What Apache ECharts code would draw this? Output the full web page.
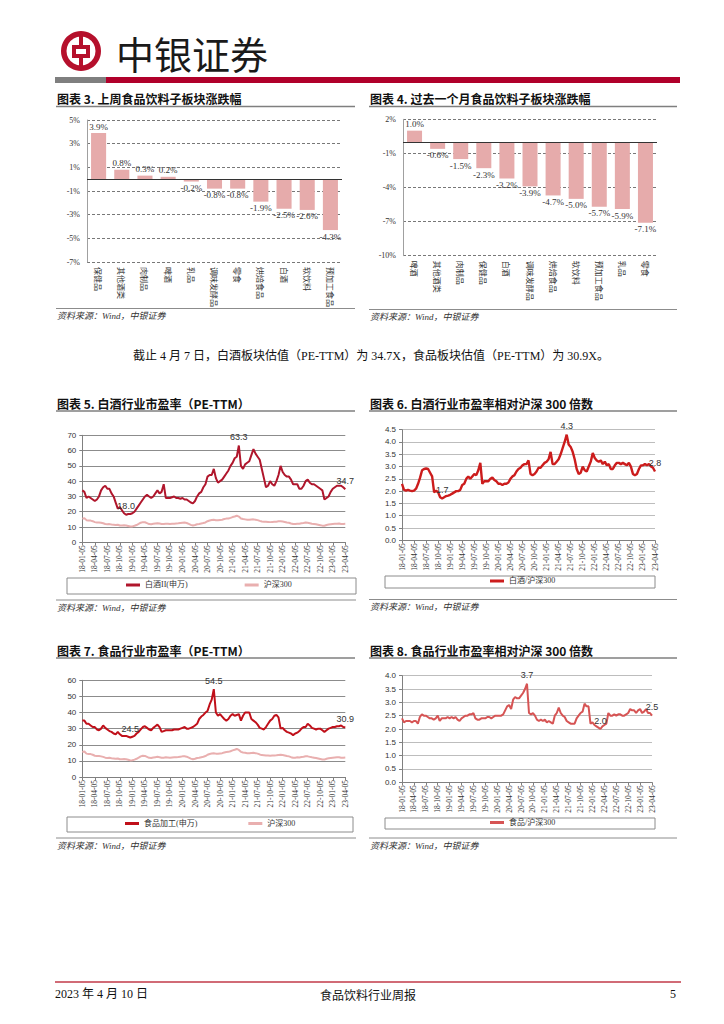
<!DOCTYPE html>
<html><head><meta charset="utf-8">
<script src="https://cdn.jsdelivr.net/npm/echarts@6/dist/echarts.min.js"></script>
<style>html,body{margin:0;padding:0;background:#fff}#c{width:724px;height:1024px}</style>
</head><body><div id="c"></div>
<script>
// ---------- data ----------
const cats3 = ['保健品','其他酒类','肉制品','啤酒','乳品','调味发酵品','零食','烘焙食品','白酒','软饮料','预加工食品'];
const vals3 = [3.9,0.8,0.3,0.2,-0.2,-0.8,-0.8,-1.9,-2.5,-2.6,-4.3];
const cats4 = ['啤酒','其他酒类','肉制品','保健品','白酒','调味发酵品','烘焙食品','软饮料','预加工食品','乳品','零食'];
const vals4 = [1.0,-0.6,-1.5,-2.3,-3.2,-3.9,-4.7,-5.0,-5.7,-5.9,-7.1];

const dates = [
'18-01-05','18-01-20','18-02-05','18-02-20','18-03-05','18-03-20','18-04-05','18-04-20','18-05-05','18-05-20','18-06-05','18-06-20','18-07-05','18-07-20','18-08-05','18-08-20','18-09-05','18-09-20','18-10-05','18-10-20','18-11-05','18-11-20','18-12-05','18-12-20',
'19-01-05','19-01-20','19-02-05','19-02-20','19-03-05','19-03-20','19-04-05','19-04-20','19-05-05','19-05-20','19-06-05','19-06-20','19-07-05','19-07-20','19-08-05','19-08-20','19-09-05','19-09-20','19-10-05','19-10-20','19-11-05','19-11-20','19-12-05','19-12-20',
'20-01-05','20-01-20','20-02-05','20-02-20','20-03-05','20-03-20','20-04-05','20-04-20','20-05-05','20-05-20','20-06-05','20-06-20','20-07-05','20-07-20','20-08-05','20-08-20','20-09-05','20-09-20','20-10-05','20-10-20','20-11-05','20-11-20','20-12-05','20-12-20',
'21-01-05','21-01-20','21-02-05','21-02-20','21-03-05','21-03-20','21-04-05','21-04-20','21-05-05','21-05-20','21-06-05','21-06-20','21-07-05','21-07-20','21-08-05','21-08-20','21-09-05','21-09-20','21-10-05','21-10-20','21-11-05','21-11-20','21-12-05','21-12-20',
'22-01-05','22-01-20','22-02-05','22-02-20','22-03-05','22-03-20','22-04-05','22-04-20','22-05-05','22-05-20','22-06-05','22-06-20','22-07-05','22-07-20','22-08-05','22-08-20','22-09-05','22-09-20','22-10-05','22-10-20','22-11-05','22-11-20','22-12-05','22-12-20',
'23-01-05','23-01-20','23-02-05','23-02-20','23-03-05','23-03-20','23-04-05'];

const baijiuPE = [
34,33,29,30,29,28,27,28,30,34,36,37,35,35,32,30,26,22,23,21,19,18.0,18.5,18.5,
19,20,22,24,26,28,30,31,30,29,30,32,34,32,33,38,29,29,29,29.5,30,29,29,28.5,
29,28,28,27,26,25.5,27,30,32,33,36,38,43,44,44,48,42,39,40,41,43,45,47,50,
52,55,56,63.3,50,48,51,52,53,57,61,58,56,54,48,42,36,37,40,38,37,40,44,50,
46,44,43,43,41,38,38,38,35,35,37,40,41,39,38,38,37,36,35,34,28,29,30,33,
35,36,37,37,37,36,34.7];
const hs300PE = [
15.5,15.8,14.5,14.3,14.2,13.8,13.2,13.0,13.0,12.8,12.5,12.0,11.8,11.9,11.6,11.5,11.3,11.5,11.0,11.0,11.1,11.0,10.7,10.3,
10.4,10.8,11.3,12.0,12.8,13.2,13.1,12.5,11.9,11.8,12.1,12.3,12.5,12.3,12.0,12.0,12.2,12.1,12.0,12.1,12.2,12.3,12.4,12.6,
12.8,12.9,12.6,12.0,11.4,11.0,11.3,11.8,12.0,12.3,12.6,13.0,13.8,14.3,14.6,14.7,14.5,14.4,14.6,14.8,15.2,15.5,15.6,16.0,
16.5,16.9,17.4,16.8,15.6,15.2,15.0,14.8,14.7,14.9,15.0,14.8,14.5,14.0,13.6,13.5,13.4,13.3,13.2,13.3,13.4,13.5,13.7,13.8,
13.6,13.3,13.0,12.8,12.3,12.0,12.0,12.2,12.1,12.4,12.6,12.9,12.8,12.5,12.2,12.0,11.8,11.5,11.2,10.9,10.8,11.3,11.6,11.8,
12.0,12.1,12.2,12.3,12.0,12.0,12.1];
const baijiuRel = [
2.3,2.05,2.02,2.05,2.02,2.0,2.02,2.1,2.3,2.55,2.85,2.9,2.92,2.9,2.75,2.6,1.95,2.02,1.95,1.75,1.7,1.75,1.8,1.82,
1.85,1.9,1.95,2.0,2.0,2.05,2.25,2.3,2.5,2.6,2.5,2.6,2.7,2.65,2.85,3.15,2.3,2.4,2.4,2.4,2.5,2.55,2.45,2.4,
2.3,2.3,2.25,2.3,2.3,2.35,2.5,2.6,2.65,2.8,2.9,2.95,3.05,3.1,3.1,3.25,2.7,2.65,2.7,2.8,2.95,2.95,3.05,3.15,
3.2,3.3,3.6,3.1,3.1,3.2,3.3,3.5,3.75,4.0,4.3,3.9,3.8,3.6,3.3,2.9,2.7,2.75,3.0,2.85,2.8,3.0,3.2,3.55,
3.35,3.25,3.2,3.25,3.1,3.2,3.05,3.1,2.9,2.9,3.05,3.15,3.15,3.1,3.15,3.1,3.05,3.15,3.0,2.7,2.65,2.7,2.9,3.05,
3.05,3.1,3.05,3.1,3.0,2.95,2.8];
const foodPE = [
35,35,33,33,32,31,31,29.5,29,30,32,30.5,29.5,28.5,28,27,26.5,28,26.5,25.5,25.5,25.5,25,24.5,
25,25.5,27,28,29.5,31,31.5,30.5,29.5,29,30.5,31.5,32.5,31,28,28.5,29,29,29,29,29.5,29.5,29.5,30,
30.5,31,30,30,30.5,31,32,33,36,37.5,38.5,40,41,45,48,54.5,40,38,39,37.5,36,35,36,38,
39,38,38.5,39,35,38,40,40,40,36,35,34,32.5,30.5,30,29.5,31,33,35,36,38,38.5,37,30,
30.5,29,28,27.5,27,26,27,27.5,28.5,30,31,31,33,32,30.5,30,29.5,30,30,29,28,29,30,30.5,
31,31,31.5,31.5,32,31,30.9];
const foodRel = [
2.4,2.25,2.3,2.3,2.3,2.25,2.3,2.3,2.2,2.45,2.55,2.5,2.5,2.45,2.4,2.4,2.35,2.4,2.5,2.3,2.4,2.4,2.4,2.45,
2.4,2.45,2.4,2.45,2.35,2.3,2.4,2.45,2.5,2.5,2.55,2.55,2.6,2.4,2.35,2.35,2.4,2.4,2.4,2.45,2.45,2.4,2.45,2.5,
2.5,2.5,2.5,2.55,2.7,2.85,2.9,2.75,3.1,3.2,3.15,3.15,3.25,3.35,3.5,3.7,2.6,2.55,2.6,2.5,2.35,2.3,2.35,2.3,
2.35,2.25,2.3,2.25,2.2,2.5,2.6,2.8,2.6,2.5,2.45,2.3,2.25,2.2,2.2,2.2,2.4,2.5,2.6,2.65,2.95,2.85,2.85,2.2,
2.25,2.15,2.1,2.05,2.0,2.1,2.15,2.2,2.6,2.5,2.5,2.55,2.5,2.55,2.55,2.5,2.5,2.55,2.6,2.75,2.7,2.7,2.6,2.7,
2.75,2.6,2.65,2.75,2.6,2.6,2.5];

// ---------- styles ----------
const SERIF = '"Liberation Serif","Noto Sans CJK SC"';
const SANS = '"Liberation Sans","Noto Sans CJK SC"';
const CJK = '"Noto Sans CJK SC"';

function barX(i, cats){return {gridIndex:i,type:'category',data:cats,axisLine:{show:false,onZero:false},axisTick:{show:false},
  axisLabel:{interval:0,rotate:-90,fontSize:8,color:'#333',fontFamily:CJK,margin:5}};}
function barY(i,min,max,interval){return {gridIndex:i,type:'value',min:min,max:max,interval:interval,
  axisLine:{show:true,lineStyle:{color:'#a0a0a0'}},axisTick:{show:false},
  splitLine:{show:true,lineStyle:{color:'#555',type:[3,2],width:0.8}},
  axisLabel:{formatter:'{value}%',fontSize:8,color:'#333',fontFamily:SERIF,margin:7}};}
function barS(i,vals){return {type:'bar',xAxisIndex:i,yAxisIndex:i,barWidth:'65%',
  data:vals.map(v=>({value:v,label:{position:v>=0?'top':'bottom'}})),
  itemStyle:{color:'#e6abab'},
  label:{show:true,formatter:p=>p.value.toFixed(1)+'%',fontSize:9,color:'#333',fontFamily:SERIF,distance:2},
  markLine:{silent:true,symbol:'none',label:{show:false},lineStyle:{color:'#333',type:'solid',width:1},data:[{yAxis:0}]}};}
function tsX(i){return {gridIndex:i,type:'category',data:dates,boundaryGap:false,
  axisLine:{onZero:false,lineStyle:{color:'#808080'}},axisTick:{interval:5,length:3,lineStyle:{color:'#808080'}},
  axisLabel:{interval:5,rotate:90,fontSize:7.5,color:'#333',fontFamily:SERIF,margin:3}};}
function tsY(i,max,interval,dec,gc){return {gridIndex:i,type:'value',min:0,max:max,interval:interval,
  axisLine:{show:true,lineStyle:{color:'#808080'}},axisTick:{show:true,length:3,lineStyle:{color:'#808080'}},
  splitLine:{lineStyle:{color:gc,width:1}},
  axisLabel:{formatter:v=>v.toFixed(dec),fontSize:8,color:'#333',fontFamily:SANS,margin:6}};}
function lineS(i,name,arr,color,width,marks){
  const s={type:'line',name:name,xAxisIndex:i,yAxisIndex:i,data:arr,symbol:'none',
    lineStyle:{color:color,width:width},itemStyle:{color:color}};
  if(marks){
    s.markPoint={symbol:'circle',symbolSize:0,
      label:{show:true,position:'top',distance:4,formatter:p=>Number(p.value).toFixed(1),fontSize:9,color:'#333',fontFamily:SANS},
      data:[{type:'max'},{type:'min'},{coord:[dates[dates.length-1],arr[arr.length-1]],value:arr[arr.length-1]}]};
  }
  return s;
}
function legend(names,left,top,gap){return {data:names,left:left,top:top,padding:0,icon:'rect',itemWidth:14,itemHeight:3,itemGap:gap,
  selectedMode:false,textStyle:{fontSize:8,color:'#333',fontFamily:SERIF}};}

// ---------- graphics ----------
const RED='#b5102c';
function txt(x,y,t,font,extra){return Object.assign({type:'text',x:x,y:y,style:Object.assign({text:t,font:font,fill:'#111',verticalAlign:'middle'},extra||{})});}
function ln(x1,y1,x2,y2,c,w){return {type:'line',shape:{x1:x1,y1:y1,x2:x2,y2:y2},style:{stroke:c,lineWidth:w}};}
function box(x,y,w,h){return {type:'rect',shape:{x:x,y:y,width:w,height:h},style:{fill:'none',stroke:'#8c8c8c',lineWidth:1}};}
const TF='bold 12px "Noto Sans CJK SC"';
const SF='italic 9px "Liberation Serif","Noto Sans CJK SC"';
const graphics=[
  {type:'ring',shape:{cx:81,cy:51,r:20,r0:14.5},style:{fill:RED}},
  {type:'rect',shape:{x:72,y:45,width:18,height:13},style:{fill:RED}},
  {type:'rect',shape:{x:76,y:49,width:10,height:5},style:{fill:'#fff'}},
  {type:'rect',shape:{x:79,y:34,width:4,height:12},style:{fill:RED}},
  {type:'rect',shape:{x:79,y:57,width:4,height:12},style:{fill:RED}},
  txt(116,52,'中银证券','38px "Noto Sans CJK SC"',{fill:'#1a1a1a'}),
  {type:'rect',shape:{x:55,y:77,width:51,height:6},style:{fill:'#7f7f7f'}},
  {type:'rect',shape:{x:106,y:77,width:574,height:6},style:{fill:'#b0002a'}},
  // titles
  txt(57,98,'图表 3. 上周食品饮料子板块涨跌幅',TF), ln(56,106.5,355,106.5,'#7f7f7f',1.5),
  txt(370,98,'图表 4. 过去一个月食品饮料子板块涨跌幅',TF), ln(369,106.5,677,106.5,'#7f7f7f',1.5),
  ln(56,308.5,355,308.5,'#8c8c8c',1), txt(57,316,'资料来源：Wind，中银证券',SF,{fill:'#333'}),
  ln(369,309.5,677,309.5,'#8c8c8c',1), txt(370,317,'资料来源：Wind，中银证券',SF,{fill:'#333'}),
  txt(133,356,'截止 4 月 7 日，白酒板块估值（PE-TTM）为 34.7X，食品板块估值（PE-TTM）为 30.9X。','12px "Liberation Serif","Noto Sans CJK SC"'),
  txt(57,403,'图表 5. 白酒行业市盈率（PE-TTM）',TF), ln(56,411,355,411,'#7f7f7f',1.5),
  txt(370,403,'图表 6. 白酒行业市盈率相对沪深 300 倍数',TF), ln(369,411,677,411,'#7f7f7f',1.5),
  box(67,578,289,16), box(385,576,270,12),
  ln(56,600,356,600,'#8c8c8c',1), txt(57,608,'资料来源：Wind，中银证券',SF,{fill:'#333'}),
  ln(369,599.5,677,599.5,'#8c8c8c',1), txt(370,607,'资料来源：Wind，中银证券',SF,{fill:'#333'}),
  txt(57,650,'图表 7. 食品行业市盈率（PE-TTM）',TF), ln(56,658,355,658,'#7f7f7f',1.5),
  txt(370,650,'图表 8. 食品行业市盈率相对沪深 300 倍数',TF), ln(369,658,677,658,'#7f7f7f',1.5),
  box(67,817,286,15), box(385,818,270,11),
  ln(56,838,356,838,'#8c8c8c',1), txt(57,846,'资料来源：Wind，中银证券',SF,{fill:'#333'}),
  ln(369,838,677,838,'#8c8c8c',1), txt(370,846,'资料来源：Wind，中银证券',SF,{fill:'#333'}),
  // footer
  ln(55,982,681,982,'#c23a48',1.5),
  txt(55,994,'2023 年 4 月 10 日','12px "Liberation Serif","Noto Sans CJK SC"'),
  txt(368,994,'食品饮料行业周报','12px "Noto Sans CJK SC"',{align:'center'}),
  txt(676,994,'5','12px "Liberation Serif"',{align:'right'})
];

const option={
  animation:false,
  backgroundColor:'#fff',
  grid:[
    {left:87,top:120,width:255,height:142},
    {left:403,top:119.3,width:254,height:136.4},
    {left:82.3,top:435.3,width:263,height:107},
    {left:402,top:429.7,width:253,height:110.6},
    {left:82.3,top:680.3,width:263,height:96.7},
    {left:402,top:675.7,width:250,height:106.6}
  ],
  xAxis:[barX(0,cats3),barX(1,cats4),tsX(2),tsX(3),tsX(4),tsX(5)],
  yAxis:[barY(0,-7,5,2),barY(1,-10,2,3),
    tsY(2,70,10,0,'#8c8c8c'),tsY(3,4.5,0.5,1,'#bdbdbd'),tsY(4,60,10,0,'#8c8c8c'),tsY(5,4.0,0.5,1,'#bdbdbd')],
  legend:[
    legend(['白酒II(申万)','沪深300'],126,581,57),
    legend(['白酒/沪深300'],490,577,10),
    legend(['食品加工(申万)','沪深300'],125,819.5,51),
    legend(['食品/沪深300'],490,818.5,10)
  ],
  series:[
    barS(0,vals3), barS(1,vals4),
    lineS(2,'沪深300',hs300PE,'#e9afaf',2,false),
    lineS(2,'白酒II(申万)',baijiuPE,'#b0162c',2,true),
    lineS(3,'白酒/沪深300',baijiuRel,'#cc1c1c',2.4,true),
    lineS(4,'沪深300',hs300PE,'#e9afaf',2,false),
    lineS(4,'食品加工(申万)',foodPE,'#c0101a',2,true),
    lineS(5,'食品/沪深300',foodRel,'#d65454',2,true)
  ],
  graphic:graphics
};
const chart=echarts.init(document.getElementById('c'),null,{renderer:'svg',width:724,height:1024});
chart.setOption(option);
</script></body></html>
